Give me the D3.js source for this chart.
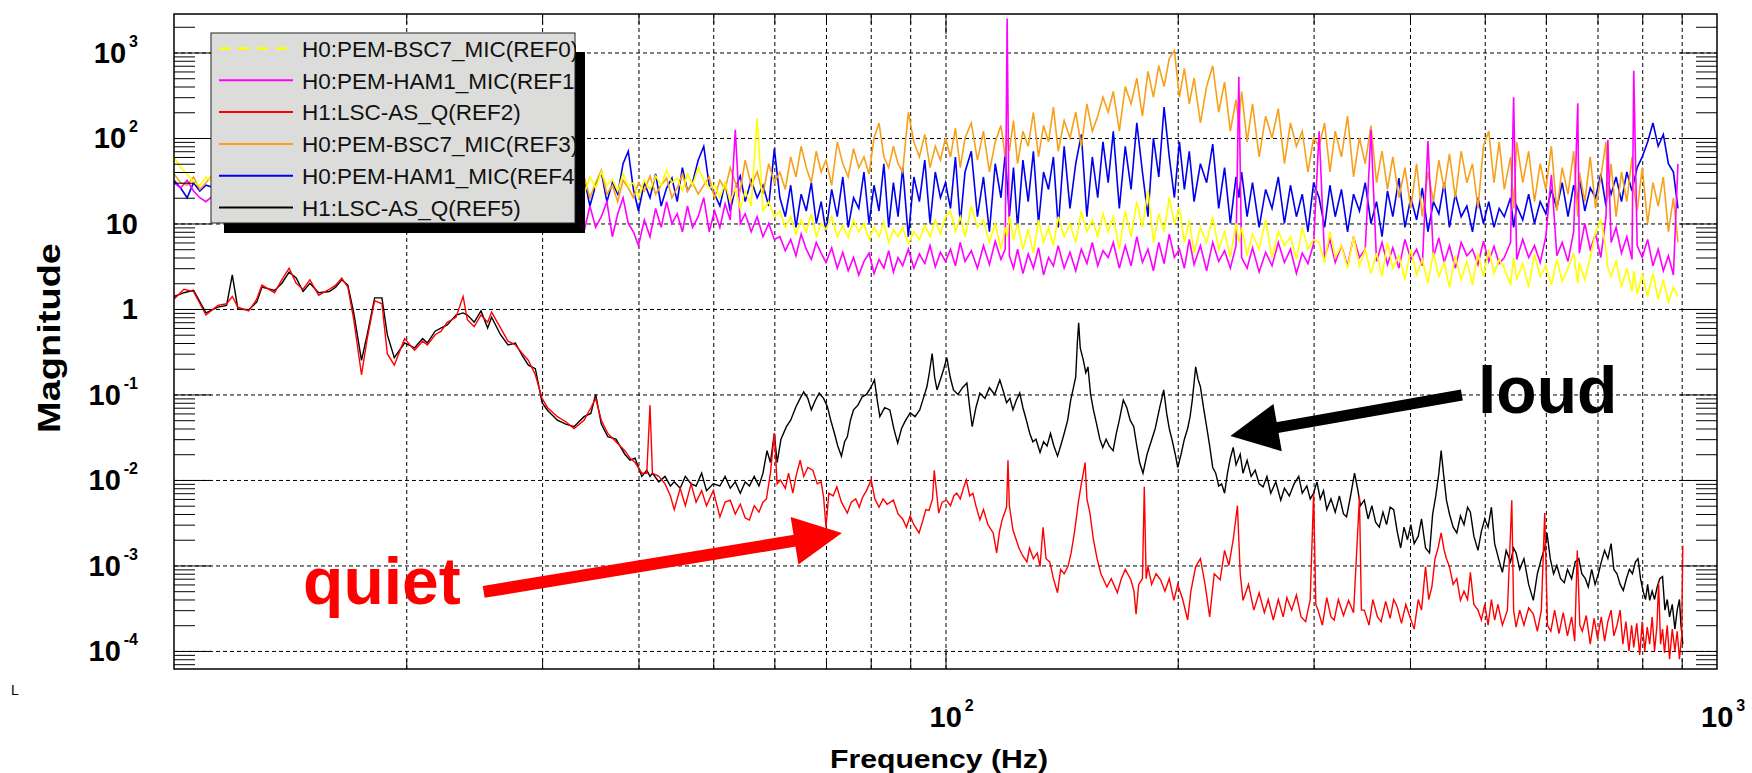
<!DOCTYPE html>
<html>
<head>
<meta charset="utf-8">
<script src="https://cdn.jsdelivr.net/npm/d3@7"></script>
<style>
  body { margin: 0; background: #fff; }
  svg { display: block; font-family: "Liberation Sans", Arial, Helvetica, sans-serif; }
</style>
</head>
<body>
<script>
// ---- series names / colours (legend order) ----
var seriesNames = ['H0:PEM-BSC7_MIC(REF0)', 'H0:PEM-HAM1_MIC(REF1)', 'H1:LSC-AS_Q(REF2)',
                   'H0:PEM-BSC7_MIC(REF3)', 'H0:PEM-HAM1_MIC(REF4)', 'H1:LSC-AS_Q(REF5)'];
var seriesColors = ['#ffff00', '#ff00ff', '#ff0000', '#f7a11a', '#0000ee', '#000000'];

// ---- microphone spectra share one frequency grid (Hz) ----
var fMic = [
  10, 10.2, 10.4, 10.6, 10.8, 11, 11.3,
  12, 13, 14, 15, 16, 17, 18, 19, 20, 21, 22, 23, 24, 25, 26, 27, 28, 29, 30, 31, 32, 33,
  33.5, 34, 34.6, 35.2, 35.8, 36.4, 37, 37.6, 38.2, 38.8, 39.4, 40, 40.7, 41.4, 42.1, 42.8, 43.5, 44.2, 44.9, 45.6, 46.3, 47, 47.8, 48.6, 49.4, 50.2, 51, 51.8, 52.6, 53.4, 54.2, 55, 56, 57, 58, 59, 60,
  61, 62, 63, 64, 65, 66, 67, 68, 69, 70, 71.2, 72.4, 73.6, 74.8, 76, 77.2, 78.4, 79.6, 80.8, 82, 83.2, 84.4, 85.6, 86.8, 88, 89.5, 91, 92.5, 94, 95.5, 97, 98.5, 100,
  101.5, 103, 104.5, 106, 108, 110, 112, 114, 116, 118, 119.5, 120.2, 121, 122.5, 124, 126, 128, 130, 132, 134, 136, 138, 140, 142.5, 145, 147.5, 150, 152.5, 155, 157.5, 160,
  162.5, 165, 168, 171, 174, 177, 180, 183, 186, 189, 192, 195, 198, 201, 204, 207, 210, 214, 218, 222, 226, 230, 234, 238, 240, 242, 246, 250, 255, 260, 265, 270, 275, 280, 285, 290, 295, 300,
  305, 310, 315, 320, 326, 332, 338, 344, 350, 356, 362, 368, 374, 380, 387, 394, 401, 408, 415, 422, 429, 436, 443, 450, 458, 466, 474, 482, 490, 498, 506, 514, 522,
  530, 540, 545, 550, 560, 570, 580, 590, 600, 610, 620, 630, 641, 652, 660, 663, 674, 685, 696, 707, 718, 722, 729, 740, 752, 764, 776, 780, 788, 800, 813, 826, 839, 852, 865, 878, 890
];

var ref0 = [
  60, 45, 38, 30, 28, 35, 30,
  28, 35, 25, 30, 22, 32, 26, 20, 28, 24, 30, 22, 26, 32, 24, 28, 20, 26, 30, 24, 28, 22,
  30, 22, 35, 26, 40, 28, 33, 24, 38, 27, 30, 20, 32, 25, 36, 28, 42, 30, 34, 24, 38, 28, 45, 32, 26, 28, 20, 30, 18, 26, 15, 24, 16, 170, 14, 18, 12,
  14, 9, 12, 7.5, 11, 8, 13, 7, 10, 8.5, 12, 7, 9.5, 6.8, 11, 8, 10, 6.5, 9, 7, 10.5, 6, 8.5, 7, 9, 5.8, 8, 6.5, 9.5, 7, 11, 7.5, 12,
  14, 8, 12, 7, 16, 9, 11, 6, 10, 5, 9, 7, 12, 6.5, 10, 5, 8.5, 4.5, 11, 6, 9, 5.5, 12, 7, 10, 6, 14, 8, 11, 7, 13,
  8, 12, 5, 14, 7, 18, 9, 25, 6, 13, 8, 20, 10, 15, 6, 11, 4.5, 9, 6, 12, 5, 8, 4, 10, 6, 9, 4.2, 7.5, 5, 11, 4, 8, 5.5, 7, 3.8, 9, 5, 6.5,
  6, 3.5, 8, 4, 5.5, 3, 7, 3.2, 5, 2.6, 4.5, 2.4, 6, 3, 4.2, 2.2, 5, 2.5, 3.8, 2, 4.6, 2.4, 3.5, 1.8, 4.2, 2.2, 3.6, 1.9, 4.5, 2.4, 5, 2.6, 3.8,
  3, 1.9, 4, 2.2, 3.4, 1.8, 4.4, 2.4, 3.2, 1.9, 3.8, 2.1, 3, 4.5, 2, 3.5, 2.2, 4, 8, 11, 5, 3, 2.4, 3.6, 1.8, 3, 1.6, 2.8, 1.5, 2.5, 1.4, 2.6, 1.3, 2.2, 1.2, 1.8, 1.4
];

var ref1 = [
  30, 26, 32, 24, 20, 18, 22,
  20, 25, 18, 28, 16, 22, 14, 18, 22, 12, 20, 15, 18, 24, 14, 10, 12, 16, 9, 14, 11, 15,
  14, 8, 16, 9, 12, 18, 7, 13, 20, 10, 8, 5.5, 11, 7, 15, 9, 18, 10, 13, 8, 16, 9, 12, 20, 8, 14, 9, 17, 11, 125, 10, 13, 8, 12, 7, 10, 6.5,
  7, 4.8, 6.5, 4.2, 7.5, 5, 3.8, 6, 4.5, 3.5, 5.2, 3, 4.6, 2.8, 4, 2.5, 3.6, 4.5, 2.6, 3.8, 3, 4.8, 2.7, 4, 3.2, 5, 3, 4.4, 3.4, 5.5, 3.1, 4.6, 3.6,
  5, 3.2, 6, 3.6, 4.8, 3, 5.5, 3.3, 6.2, 3.8, 5, 2500, 4.2, 3, 5, 2.6, 4.4, 3, 5.2, 2.5, 4, 3.2, 5.5, 3, 4.6, 2.8, 5, 3.4, 6, 3.2, 4.8,
  4, 6, 3, 5.5, 3.2, 7, 3.5, 5, 2.8, 6, 3.4, 7.5, 4, 5, 3, 6.5, 3.3, 5.5, 2.8, 6, 3.6, 4.8, 3, 5.5, 520, 4, 3, 5.2, 2.7, 4.6, 3.2, 6, 3.5, 5, 2.6, 4.5, 3.4, 5.8,
  120, 4, 6.5, 3.5, 5.5, 3.2, 7, 4, 5, 125, 3.6, 6, 3.3, 5.2, 3, 6.5, 3.8, 5, 3.2, 92, 4, 6.8, 3.5, 5.5, 3, 6, 4.2, 5, 3.3, 6.2, 3.6, 5.4, 3.4,
  4, 6, 300, 3.8, 6.5, 4, 5.5, 3.5, 7, 37, 4.2, 6, 3.6, 8, 255, 4.5, 10, 5, 7.5, 4, 12, 95, 6, 9, 4.5, 7, 3.8, 610, 5.5, 4, 6.5, 3.2, 5, 2.8, 4.2, 2.5, 50
];

var ref3 = [
  38, 30, 28, 35, 25, 30, 40,
  30, 26, 34, 22, 28, 36, 24, 30, 26, 32, 22, 28, 34, 25, 30, 22, 28, 24, 32, 26, 22, 30,
  25, 35, 20, 30, 42, 22, 28, 18, 32, 26, 20, 30, 24, 36, 22, 28, 34, 20, 26, 38, 24, 30, 22, 28, 35, 20, 32, 25, 45, 30, 24, 55, 28, 40, 22, 50, 30,
  40, 25, 60, 35, 80, 45, 30, 70, 40, 55, 28, 90, 50, 35, 75, 45, 60, 38, 100, 150, 60, 45, 80, 50, 40, 200, 90, 60, 110, 45, 80, 55, 100,
  60, 130, 45, 100, 150, 55, 120, 40, 90, 140, 60, 100, 70, 160, 50, 120, 80, 200, 60, 140, 90, 230, 70, 160, 100, 200, 80, 250, 120, 180, 300,
  200, 350, 120, 400, 250, 500, 180, 600, 300, 700, 400, 850, 1050, 300, 650, 250, 500, 150, 400, 700, 200, 450, 120, 280, 150, 350, 90, 250, 60, 180, 100, 220, 50, 150, 80, 120, 40, 100,
  80, 150, 40, 120, 60, 180, 35, 100, 50, 140, 30, 70, 25, 60, 20, 45, 15, 50, 12, 40, 18, 55, 25, 65, 20, 70, 30, 50, 15, 80, 120, 30, 90,
  25, 60, 15, 90, 30, 70, 18, 50, 25, 80, 14, 45, 22, 70, 12, 40, 18, 60, 15, 35, 90, 20, 50, 12, 40, 18, 60, 25, 14, 45, 10, 30, 16, 35, 8, 20, 6
];

var ref4 = [
  32, 26, 20, 30, 24, 28, 26,
  24, 30, 20, 26, 32, 22, 28, 18, 26, 30, 20, 24, 28, 22, 30, 18, 26, 22, 28, 20, 30, 24,
  20, 35, 16, 28, 40, 18, 30, 22, 50, 70, 25, 14, 30, 20, 38, 16, 26, 34, 18, 45, 24, 30, 55, 80, 28, 22, 16, 30, 14, 26, 36, 18, 32, 20, 28, 16, 75,
  20, 12, 28, 9, 22, 14, 30, 10, 18, 8, 25, 12, 35, 9, 20, 15, 40, 10, 28, 14, 50, 9, 30, 12, 45, 7, 35, 18, 55, 10, 40, 20, 30,
  15, 60, 10, 40, 70, 12, 35, 8, 50, 20, 65, 30, 12, 45, 9, 55, 18, 70, 10, 40, 25, 60, 9, 80, 15, 50, 110, 12, 60, 20, 90,
  30, 120, 15, 80, 25, 150, 40, 12, 100, 35, 230, 60, 20, 90, 25, 70, 18, 50, 30, 85, 15, 45, 10, 35, 20, 40, 12, 30, 9, 25, 15, 35, 10, 28, 12, 22, 8, 30,
  20, 9, 28, 12, 25, 8, 22, 14, 30, 10, 18, 7, 24, 12, 34, 9, 20, 11, 26, 8, 18, 13, 30, 9, 22, 12, 16, 8, 20, 10, 18, 9, 15,
  12, 20, 9, 16, 11, 22, 10, 18, 13, 25, 15, 30, 12, 28, 18, 35, 14, 26, 20, 38, 16, 30, 22, 35, 18, 40, 24, 30, 45, 60, 90, 150, 80, 110, 50, 40, 15
];

// ---- LSC-AS_Q spectra: [frequency Hz, magnitude] ----
var ref2 = [
  [10,1.3],[10.3,1.7],[10.6,1.6],[11,0.85],[11.4,1.1],[11.7,1.15],[11.9,1.4],[12.1,1.05],[12.5,0.95],[12.8,1.3],[13,1.9],[13.5,1.55],[13.8,2.2],[14.1,3.0],[14.4,2.0],[14.7,1.7],[15,2.2],[15.4,1.45],[15.9,1.7],[16.2,1.9],[16.5,2.3],[16.8,1.8],[17.1,0.75],[17.5,0.17],[17.8,0.45],[18.2,1.25],[18.6,1.15],[18.9,0.3],[19.3,0.22],[19.9,0.45],
  [20.5,0.33],[21,0.42],[21.3,0.38],[21.8,0.5],[22.2,0.55],[22.6,0.7],[23.2,0.8],[23.7,1.4],[24,0.75],[24.5,0.62],[25,0.85],[25.5,0.7],[25.8,0.92],[26.5,0.6],[27.1,0.42],[27.7,0.38],[28.3,0.3],[28.8,0.25],[29.4,0.17],[30,0.09],[30.5,0.07],[31.4,0.055],[32.2,0.048],[33,0.04],[34,0.05],[34.7,0.07],[35.2,0.09],[35.8,0.05],[36.5,0.035],[37.4,0.028],[38.4,0.022],[39,0.018],[39.6,0.016],[40.4,0.012],[41,0.012],[41.4,0.075],[41.7,0.012],[42.5,0.011],[43.3,0.009],
  [44,0.0065],[44.5,0.0045],[45.3,0.008],[46,0.005],[46.8,0.009],[47.5,0.0055],[48.3,0.0075],[49,0.005],[50,0.0075],[51,0.0037],[51.8,0.0055],[52.6,0.0058],[53.4,0.004],[54.2,0.0052],[55,0.0036],[55.7,0.0034],[56.5,0.005],[57.3,0.0042],[58,0.0055],[58.6,0.006],[59.3,0.012],[60,0.035],[60.5,0.009],[61.1,0.01],[62,0.008],[62.6,0.012],[63.4,0.007],[64,0.011],[64.8,0.017],[65.5,0.011],[66.3,0.014],[67.3,0.013],[68.2,0.009],[69,0.0095],[69.5,0.0063],[70,0.0028],
  [70.6,0.007],[71.5,0.0065],[72.3,0.0083],[73.3,0.0055],[74.6,0.0041],[75.5,0.0055],[76.5,0.006],[77.3,0.0048],[78.1,0.0063],[79,0.0075],[80.1,0.01],[81,0.006],[82,0.0048],[83,0.006],[84,0.0052],[85.6,0.0058],[86.8,0.004],[88,0.0035],[89,0.0028],[90,0.0038],[91,0.003],[92.4,0.0024],[93.5,0.0034],[94.3,0.0045],[95.2,0.0044],[96.2,0.006],[96.7,0.013],[97.4,0.007],[98,0.0041],[99,0.0055],
  [100.3,0.0058],[101.5,0.005],[102.5,0.0065],[103.4,0.007],[104.5,0.006],[105.5,0.008],[106.4,0.01],[107.5,0.0065],[108.5,0.007],[109.5,0.005],[110.8,0.0034],[112,0.0045],[113.5,0.003],[115.3,0.0024],[116.5,0.0014],[117.5,0.0025],[118.5,0.0035],[120,0.0048],[120.5,0.017],[121,0.005],[122.3,0.0026],[123.5,0.002],[124.5,0.0016],[125.9,0.0013],[127.5,0.0011],[128.5,0.0016],[130,0.0012],[131.5,0.0014],[132.6,0.00097],[133.8,0.0028],
  [135,0.0012],[136.5,0.0011],[138,0.0007],[139.7,0.00048],[141,0.0009],[142.5,0.0008],[144.1,0.00097],[145.5,0.0014],[147,0.0025],[148.8,0.0058],[150,0.009],[151.7,0.016],[152.5,0.006],[153.9,0.0041],[155.5,0.002],[157.2,0.0012],[159,0.0008],[161.9,0.00056],[164,0.0007],[167,0.00048],[169,0.0007],[171,0.0009],[173.9,0.00068],[175.5,0.0005],[176.6,0.00027],[178,0.0006],[180,0.0007],[181,0.0083],[182,0.0007],[183,0.00097],
  [185,0.0006],[187.5,0.0008],[190,0.00068],[192.5,0.0005],[195,0.0007],[197.7,0.00039],[200,0.0006],[203,0.0004],[206,0.00023],[208,0.0005],[211,0.00097],[214,0.0012],[217,0.0006],[220,0.00025],[223,0.0008],[227,0.00068],[230,0.0015],[233,0.001],[236,0.002],[239,0.005],[241,0.0008],[243,0.00039],[247,0.0006],[251,0.0003],[255,0.00048],[259,0.00028],[262,0.0004],[266,0.00023],[270,0.0004],[274,0.00025],
  [277,0.00042],[281,0.0003],[285,0.00045],[289,0.00025],[293,0.00022],[297,0.0004],[300,0.007],[302,0.00035],[304,0.0003],[308,0.0002],[312,0.00042],[316,0.00025],[319,0.00023],[323,0.0004],[328,0.00026],[333,0.00039],[338,0.00028],[344,0.0063],[346,0.0003],[349,0.0003],[354,0.0002],[358,0.0004],[363,0.00025],[367,0.00022],[372,0.00038],[377,0.00024],[381,0.0004],[385,0.00033],[390,0.00021],[395,0.00035],
  [400,0.00025],[405,0.00018],[410,0.0004],[414,0.0003],[419,0.00097],[423,0.0004],[427,0.00056],[431,0.0012],[435,0.0016],[439,0.0024],[443,0.0015],[446,0.0012],[450,0.00097],[455,0.0006],[460,0.0007],[465,0.00039],[470,0.0005],[475,0.0004],[479,0.00083],[484,0.00035],[490,0.0003],[495,0.00023],[500,0.00035],[505,0.0002],[510,0.0004],[515,0.00023],[520,0.00035],[527,0.0002],[535,0.0003],[542,0.0058],
  [545,0.0003],[549,0.00019],[555,0.0003],[562,0.0002],[570,0.00032],[578,0.00027],[585,0.00017],[592,0.0003],[598,0.0041],[603,0.0002],[609,0.00017],[616,0.0003],[624,0.00016],[632,0.00028],[640,0.00015],[648,0.00025],[654,0.00013],[659,0.0015],[664,0.0002],[669,0.00017],[677,0.00026],[685,0.00012],[693,0.00024],[700,0.00014],[708,0.00025],[715,0.00013],[722,0.00022],[729,0.0003],[735,0.00015],[742,0.0002],
  [749,0.0003],[755,0.00012],[762,0.00022],[769,0.0001],[775,0.0002],[780,0.00011],[787,0.00021],[794,0.00009],[800,0.00022],[806,0.0001],[812,0.00019],[818,0.00012],[824,0.00025],[830,0.0001],[836,0.0002],[840,0.00063],[845,0.00012],[850,0.00018],[855,0.000095],[862,0.0002],[868,0.00008],[875,0.00018],[882,0.0001],[888,0.00017],[894,0.00008],[900,0.00015],[903,0.0017]
];

var ref5 = [
  [10,1.4],[10.3,1.55],[10.6,1.65],[11,0.9],[11.4,1.05],[11.7,1.1],[11.9,2.5],[12.1,1.0],[12.5,0.98],[12.8,1.2],[13,1.8],[13.5,1.65],[13.8,2.0],[14.1,2.7],[14.4,2.3],[14.7,1.6],[15,2.0],[15.4,1.55],[15.9,1.6],[16.2,1.8],[16.5,2.2],[16.8,1.9],[17.1,0.9],[17.5,0.25],[17.8,0.5],[18.2,1.35],[18.6,1.35],[18.9,0.5],[19.3,0.27],[19.9,0.4],
  [20.5,0.35],[21,0.45],[21.3,0.4],[21.8,0.55],[22.2,0.6],[22.6,0.65],[23.2,0.85],[23.7,0.9],[24,0.85],[24.5,0.7],[25,0.95],[25.5,0.6],[25.8,0.8],[26.5,0.5],[27.1,0.38],[27.7,0.4],[28.3,0.28],[28.8,0.22],[29.4,0.2],[30,0.08],[30.5,0.065],[31.4,0.05],[32.2,0.045],[33,0.042],[34,0.055],[34.7,0.06],[35.2,0.1],[35.8,0.045],[36.5,0.032],[37.4,0.03],
  [38.4,0.02],[39,0.017],[39.6,0.018],[40.4,0.011],[41,0.013],[41.4,0.011],[41.7,0.012],[42.5,0.0095],[43.3,0.011],[44,0.0085],[44.5,0.0095],[45.3,0.008],[46,0.011],[46.8,0.009],[47.5,0.0085],[48.3,0.012],[49,0.0075],[50,0.009],[51,0.0085],[51.8,0.011],[52.6,0.008],[53.4,0.0095],[54.2,0.007],[55,0.0095],[55.7,0.0085],[56.5,0.011],[57.3,0.0085],[58,0.012],[58.7,0.022],[59.3,0.016],
  [60,0.035],[60.5,0.016],[61.2,0.03],[62.2,0.042],[63,0.05],[64,0.072],[64.8,0.09],[65.5,0.107],[66.3,0.09],[67,0.066],[67.8,0.085],[68.6,0.104],[69.5,0.09],[70.3,0.072],[71,0.05],[71.8,0.035],[72.5,0.025],[73.3,0.019],[74,0.028],[74.6,0.032],[75.3,0.05],[76,0.066],[77,0.075],[78,0.094],[79,0.1],[80,0.12],[80.9,0.148],[81.5,0.09],[82.2,0.055],[83.4,0.07],
  [84.7,0.066],[85.7,0.04],[86.7,0.027],[87.7,0.04],[88.8,0.05],[90,0.061],[91.3,0.055],[92.6,0.066],[93.6,0.09],[94.6,0.123],[95.3,0.18],[96.1,0.3],[96.8,0.16],[97.5,0.113],[98.5,0.15],[99.5,0.2],[100.4,0.27],[101.4,0.16],[102.4,0.113],[103.8,0.1],[105.2,0.12],[106.6,0.136],[107.5,0.07],[108.3,0.042],[109.5,0.07],[110.8,0.104],[112.5,0.09],[114,0.12],[115.8,0.1],[117.6,0.148],
  [118.8,0.11],[120,0.08],[121.2,0.09],[122.3,0.066],[123.5,0.085],[124.8,0.104],[126,0.07],[127.3,0.05],[128.6,0.035],[129.8,0.028],[131,0.03],[132.6,0.021],[134,0.028],[135.4,0.025],[136.8,0.035],[138.2,0.025],[139.7,0.019],[141,0.025],[142.5,0.035],[144,0.05],[145.3,0.086],[146.5,0.12],[147.5,0.16],[148.2,0.4],[148.8,0.69],[149.5,0.35],[150.9,0.25],[152,0.18],[153,0.21],[154.2,0.1],
  [155.5,0.066],[157,0.045],[158.5,0.03],[159.9,0.024],[161.5,0.03],[163,0.025],[164.9,0.022],[166.5,0.035],[168,0.05],[170,0.086],[171.8,0.07],[173.5,0.05],[175.4,0.042],[177,0.025],[178.5,0.016],[180.3,0.012],[182.5,0.02],[184.9,0.029],[187,0.04],[189.5,0.07],[191.8,0.113],[193.5,0.06],[195,0.04],[196.7,0.029],[198.5,0.02],[200,0.014],[202,0.02],[204,0.03],[206,0.04],[207.5,0.055],
  [209,0.09],[211,0.21],[212.5,0.15],[214,0.123],[216,0.07],[218,0.042],[220,0.025],[222,0.014],[224,0.012],[226,0.0085],[228,0.009],[230,0.007],[232,0.012],[234,0.018],[236,0.024],[238,0.015],[241,0.02],[243,0.012],[246,0.017],[249,0.011],[252,0.013],[255,0.009],[258,0.0083],[261,0.011],[264,0.007],[268,0.0095],[272,0.0058],[275,0.008],[279,0.0065],[283,0.009],
  [287,0.011],[290,0.007],[294,0.0085],[297,0.006],[300,0.007],[303,0.0095],[306,0.006],[309,0.0075],[312,0.0045],[316,0.006],[320,0.0042],[324,0.0065],[328,0.004],[331,0.0037],[335,0.0065],[339,0.012],[342,0.008],[345,0.005],[349,0.0058],[353,0.0035],[357,0.005],[361,0.0032],[365,0.0028],[369,0.0042],[373,0.003],[377,0.0048],[381,0.0045],[385,0.0025],[389,0.0016],[393,0.0028],
  [397,0.002],[401,0.003],[405,0.0018],[410,0.0022],[414,0.0035],[419,0.0016],[424,0.0014],[428,0.004],[432,0.0065],[436,0.012],[439,0.022],[442,0.012],[446,0.0058],[450,0.004],[455,0.0028],[460,0.0024],[465,0.0038],[470,0.003],[475,0.0048],[479,0.0042],[484,0.0022],[490,0.0015],[495,0.0025],[500,0.0035],[505,0.0028],[510,0.0048],[515,0.0018],[521,0.0012],[527,0.00083],[533,0.0015],
  [540,0.0011],[545,0.0016],[549,0.0014],[555,0.0009],[562,0.0012],[570,0.0006],[578,0.00039],[585,0.0008],[592,0.0012],[598,0.0016],[602,0.0024],[608,0.0012],[614,0.0008],[620,0.001],[627,0.0007],[634,0.00063],[640,0.0009],[648,0.0007],[655,0.0011],[662,0.0012],[668,0.0008],[675,0.0007],[681,0.00056],[688,0.0009],[695,0.0006],[702,0.0008],[708,0.0011],[715,0.0015],[722,0.0012],[729,0.0018],
  [735,0.0009],[742,0.0008],[749,0.0006],[756,0.00051],[763,0.0007],[770,0.0009],[777,0.0008],[784,0.0011],[790,0.0012],[796,0.0007],[802,0.0005],[808,0.0004],[813,0.0006],[818,0.00039],[824,0.0005],[830,0.0004],[836,0.00055],[843,0.0007],[850,0.00074],[856,0.0003],[862,0.0004],[868,0.00025],[875,0.00035],[882,0.00018],[888,0.0003],[894,0.0004],[898,0.0002],[903,0.00012]
];

// ---- axis ticks ----
var xGrid = [20, 30, 40, 50, 60, 70, 80, 90, 100, 200, 300, 400, 500, 600, 700, 800, 900];
var xLabels = [100, 1000];
var yDecades = [1e-4, 1e-3, 1e-2, 1e-1, 1, 10, 100, 1000];

// ---- annotations: [tail, tip] in data units ----
var quietArrow = [[25.2, 4.9e-4], [73.4, 0.0024]];
var loudArrow = [[467, 0.0986], [234, 0.0327]];

var width = 1752, height = 773;
var plotLeft = 174, plotRight = 1717, plotTop = 14, plotBottom = 669;

var x = d3.scaleLog().domain([10, 1000]).range([plotLeft, plotRight]);
var y = d3.scaleLog().domain([6.15e-5, 2820]).range([plotBottom, plotTop]);

var svg = d3.select('body').append('svg')
  .attr('width', width)
  .attr('height', height);

// minor tick positions on the log axes
var yMinor = [];
for (var e = -5; e <= 3; e++) {
  for (var k = 2; k <= 9; k++) {
    var v = k * Math.pow(10, e);
    if (v > 6.15e-5 && v < 2820) yMinor.push(v);
  }
}

function styleTicks(g, dashed) {
  g.select('.domain').remove();
  g.selectAll('line').attr('stroke', '#000').attr('stroke-width', 1)
    .attr('stroke-dasharray', dashed ? '4,3' : null);
  g.selectAll('text').remove();
}

// dashed grid
svg.append('g')
  .attr('transform', 'translate(0,' + plotBottom + ')')
  .call(d3.axisBottom(x).tickValues(xGrid).tickSize(-(plotBottom - plotTop)))
  .call(styleTicks, true);
svg.append('g')
  .attr('transform', 'translate(' + plotLeft + ',0)')
  .call(d3.axisLeft(y).tickValues(yDecades).tickSize(-(plotRight - plotLeft)))
  .call(styleTicks, true);

// data lines, last legend entry drawn first
svg.append('clipPath').attr('id', 'plotClip')
  .append('rect')
  .attr('x', plotLeft).attr('y', plotTop)
  .attr('width', plotRight - plotLeft).attr('height', plotBottom - plotTop);

var line = d3.line()
  .x(function (d) { return x(d[0]); })
  .y(function (d) { return y(d[1]); });

var seriesData = [d3.zip(fMic, ref0), d3.zip(fMic, ref1), ref2,
                  d3.zip(fMic, ref3), d3.zip(fMic, ref4), ref5];
var drawOrder = [5, 4, 3, 2, 1, 0];

svg.append('g').attr('clip-path', 'url(#plotClip)')
  .selectAll('path')
  .data(drawOrder)
  .enter()
  .append('path')
    .attr('d', function (i) { return line(seriesData[i]); })
    .attr('fill', 'none')
    .attr('stroke', function (i) { return seriesColors[i]; })
    .attr('stroke-width', function (i) { return (i === 2 || i === 5) ? 1.4 : 1.6; })
    .attr('stroke-linejoin', 'miter');

// inward ticks on all four sides
var tickAxes = [
  [d3.axisLeft(y).tickValues(yDecades).tickSize(-37), plotLeft, 0],
  [d3.axisLeft(y).tickValues(yMinor).tickSize(-21), plotLeft, 0],
  [d3.axisRight(y).tickValues(yDecades).tickSize(-37), plotRight, 0],
  [d3.axisRight(y).tickValues(yMinor).tickSize(-21), plotRight, 0],
  [d3.axisBottom(x).tickValues([100]).tickSize(-20), 0, plotBottom],
  [d3.axisBottom(x).tickValues(xGrid.filter(function (d) { return d !== 100; })).tickSize(-10), 0, plotBottom],
  [d3.axisTop(x).tickValues([100]).tickSize(-20), 0, plotTop],
  [d3.axisTop(x).tickValues(xGrid.filter(function (d) { return d !== 100; })).tickSize(-10), 0, plotTop]
];
tickAxes.forEach(function (a) {
  svg.append('g')
    .attr('transform', 'translate(' + a[1] + ',' + a[2] + ')')
    .call(a[0])
    .call(styleTicks, false);
});

// frame
svg.append('rect')
  .attr('x', plotLeft).attr('y', plotTop)
  .attr('width', plotRight - plotLeft).attr('height', plotBottom - plotTop)
  .attr('fill', 'none').attr('stroke', '#000').attr('stroke-width', 1.5);

// y tick labels: 10^n with raised exponent
function powerLabel(sel, exp) {
  if (exp === 0) { sel.append('tspan').text('1'); return; }
  sel.append('tspan').text('10');
  if (exp !== 1) {
    sel.append('tspan').attr('font-size', 16).attr('dx', 3).attr('dy', -16).text(exp);
  }
}
yDecades.forEach(function (d) {
  var t = svg.append('text')
    .attr('x', 138).attr('y', y(d) + 10.5)
    .attr('text-anchor', 'end')
    .attr('font-size', 29).attr('font-weight', 'bold');
  powerLabel(t, Math.round(Math.log10(d)));
});

// x tick labels
xLabels.forEach(function (d) {
  var t = svg.append('text')
    .attr('x', x(d) - 16).attr('y', 727)
    .attr('font-size', 29).attr('font-weight', 'bold');
  powerLabel(t, Math.round(Math.log10(d)));
});

// axis titles
svg.append('text')
  .attr('x', 830).attr('y', 768)
  .attr('font-size', 25).attr('font-weight', 'bold')
  .attr('textLength', 218).attr('lengthAdjust', 'spacingAndGlyphs')
  .text('Frequency (Hz)');

svg.append('text')
  .attr('transform', 'translate(60,338)rotate(-90)')
  .attr('text-anchor', 'middle')
  .attr('font-size', 32).attr('font-weight', 'bold')
  .attr('textLength', 190).attr('lengthAdjust', 'spacingAndGlyphs')
  .text('Magnitude');

svg.append('text')
  .attr('x', 11).attr('y', 695)
  .attr('font-size', 14)
  .text('L');

// legend
var lg = { x: 211, y: 33, w: 364, h: 190 };
svg.append('rect').attr('x', lg.x + lg.w).attr('y', lg.y + 19).attr('width', 10).attr('height', lg.h - 9).attr('fill', '#000');
svg.append('rect').attr('x', lg.x + 13).attr('y', lg.y + lg.h).attr('width', lg.w - 3).attr('height', 10).attr('fill', '#000');
svg.append('clipPath').attr('id', 'legendClip')
  .append('rect').attr('x', lg.x).attr('y', lg.y).attr('width', lg.w + 1).attr('height', lg.h);
svg.append('rect')
  .attr('x', lg.x).attr('y', lg.y).attr('width', lg.w).attr('height', lg.h)
  .attr('fill', '#dcdddb').attr('stroke', '#222').attr('stroke-width', 1);

var legendRows = svg.append('g').attr('clip-path', 'url(#legendClip)')
  .selectAll('g')
  .data(seriesNames)
  .enter()
  .append('g')
    .attr('transform', function (d, i) { return 'translate(0,' + (lg.y + 15.5 + i * 31.8) + ')'; });

legendRows.append('line')
  .attr('x1', 219).attr('x2', 293)
  .attr('stroke', function (d, i) { return seriesColors[i]; })
  .attr('stroke-width', function (d, i) { return i === 0 ? 2.5 : 2; })
  .attr('stroke-dasharray', function (d, i) { return i === 0 ? '11,8' : null; });

legendRows.append('text')
  .attr('x', 302).attr('y', 8.3)
  .attr('font-size', 22.5)
  .attr('fill', '#111')
  .text(function (d) { return d; });

// annotations
function drawArrow(pts, color, shaftWidth) {
  var x0 = x(pts[0][0]), y0 = y(pts[0][1]);
  var x1 = x(pts[1][0]), y1 = y(pts[1][1]);
  var len = Math.hypot(x1 - x0, y1 - y0);
  var ux = (x1 - x0) / len, uy = (y1 - y0) / len;
  var headLen = 48, headHalf = 24;
  var bx = x1 - ux * headLen, by = y1 - uy * headLen;
  svg.append('line')
    .attr('x1', x0).attr('y1', y0).attr('x2', bx + ux * 2).attr('y2', by + uy * 2)
    .attr('stroke', color).attr('stroke-width', shaftWidth);
  svg.append('path')
    .attr('d', 'M' + x1 + ',' + y1 +
               'L' + (bx - uy * headHalf) + ',' + (by + ux * headHalf) +
               'L' + (bx + uy * headHalf) + ',' + (by - ux * headHalf) + 'Z')
    .attr('fill', color);
}
drawArrow(quietArrow, '#ff0000', 12);
drawArrow(loudArrow, '#000', 11);

svg.append('text')
  .attr('x', x(14.7)).attr('y', y(3.5e-4))
  .attr('font-size', 66).attr('font-weight', 'bold').attr('fill', '#ff0000')
  .text('quiet');
svg.append('text')
  .attr('x', x(490)).attr('y', y(0.0608))
  .attr('font-size', 66).attr('font-weight', 'bold').attr('fill', '#000')
  .text('loud');
</script>
</body>
</html>
